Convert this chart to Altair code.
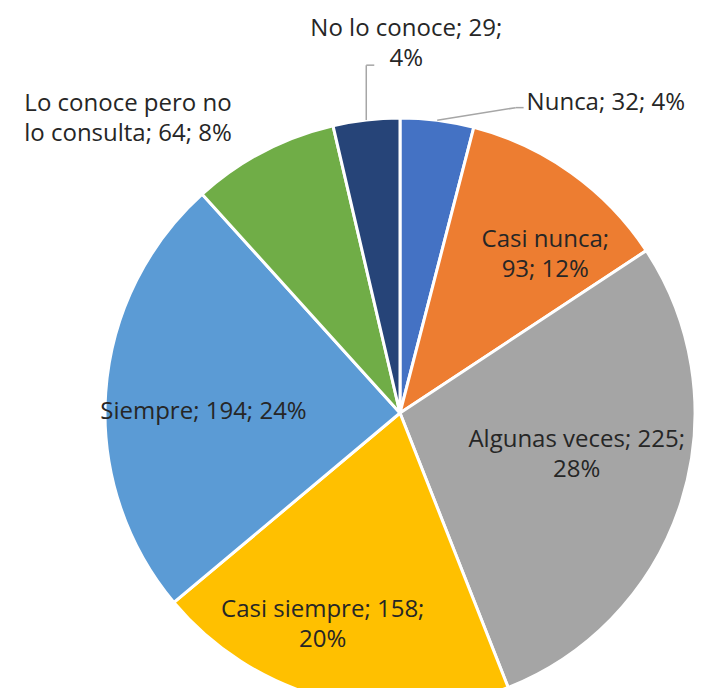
import altair as alt
import pandas as pd

categories = ["Nunca", "Casi nunca", "Algunas veces", "Casi siempre",
              "Siempre", "Lo conoce pero no lo consulta", "No lo conoce"]
values = [32, 93, 225, 158, 194, 64, 29]
colors = ["#4472C4", "#ED7D31", "#A5A5A5", "#FFC000",
          "#5B9BD5", "#70AD47", "#264478"]
first_lines = ["", "Casi nunca;", "Algunas veces; 225;", "Casi siempre; 158;",
               "", "Lo conoce pero no", "No lo conoce; 29;"]

total = sum(values)
pcts = [round(v * 100 / total) for v in values]
labels = []
for c, v, p, f in zip(categories, values, pcts, first_lines):
    full = f"{c}; {v}; {p}%"
    labels.append(full if not f else f + "\n" + full[len(f):].strip())

df = pd.DataFrame(dict(category=categories, value=values,
                       order=list(range(len(values))), label=labels))

CX, CY, R = 392, 405, 295
FONT = "Open Sans"
FS = 24
LH = 30
TC = "#262626"

arcs = alt.Chart(df).mark_arc(radius=R, stroke="white", strokeWidth=3).encode(
    theta=alt.Theta("value:Q", stack=True),
    order=alt.Order("order:Q"),
    color=alt.Color("category:N", scale=alt.Scale(domain=categories, range=colors), legend=None),
    x=alt.value(CX), y=alt.value(CY),
)

base = (alt.Chart(df)
        .transform_joinaggregate(total="sum(value)")
        .transform_window(cum="sum(value)", sort=[alt.SortField("order")], frame=[None, 0])
        .transform_calculate(mid="(datum.cum - datum.value/2)/datum.total*2*PI"))


def pos(r):
    return f"({CX} + {r}*sin(datum.mid))", f"({CY} - {r}*cos(datum.mid))"


X = lambda f: alt.X(f, scale=None, axis=None)
Y = lambda f: alt.Y(f, scale=None, axis=None)


def label(cat, r, dx, dy, align="center"):
    ax, ay = pos(r)
    return (base.transform_filter(alt.datum.category == cat)
            .transform_calculate(tx=ax, ty=ay)
            .mark_text(font=FONT, fontSize=FS, lineBreak="\n", lineHeight=LH, color=TC,
                       dx=dx, dy=dy, align=align)
            .encode(x=X("tx:Q"), y=Y("ty:Q"), text="label:N"))


def leader(cat, ox1, oy1, ox2, oy2):
    sx, sy = pos(R)
    mx, my = pos(330)
    seg1 = (base.transform_filter(alt.datum.category == cat)
            .transform_calculate(sx=sx, sy=sy, ex=f"{mx} + {ox1}", ey=f"{my} + {oy1}")
            .mark_rule(color="#A6A6A6", strokeWidth=1.5)
            .encode(x=X("sx:Q"), y=Y("sy:Q"), x2="ex:Q", y2="ey:Q"))
    seg2 = (base.transform_filter(alt.datum.category == cat)
            .transform_calculate(ex=f"{mx} + {ox1}", ey=f"{my} + {oy1}",
                                 hx=f"{mx} + {ox2}", hy=f"{my} + {oy2}")
            .mark_rule(color="#A6A6A6", strokeWidth=1.5)
            .encode(x=X("ex:Q"), y=Y("ey:Q"), x2="hx:Q", y2="hy:Q"))
    return seg1 + seg2


layers = [
    arcs,
    leader("Nunca", 74, 22, 82, 22),
    leader("No lo conoce", 4, -20, 12, -20),
    label("Casi nunca", 200, 29, -10),
    label("Algunas veces", 200, -14, -33),
    label("Casi siempre", 200, -28, 3),
    label("Siempre", 200, 3, 13),
    label("Nunca", 330, 85, 17, align="left"),
    label("Lo conoce pero no lo consulta", 330, -119, -17),
    label("No lo conoce", 330, 44, -56),
]

chart = alt.layer(*layers).properties(
    width=696, height=680, padding=0,
    autosize=alt.AutoSizeParams(type="none"),
).configure_view(stroke=None)

chart.save("out.html", embed_options={"renderer": "svg", "actions": False})
